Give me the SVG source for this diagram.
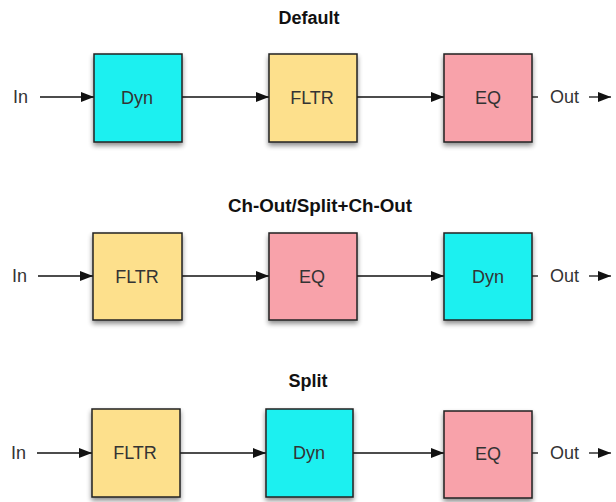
<svg xmlns="http://www.w3.org/2000/svg" width="616" height="502" viewBox="0 0 616 502">
<defs>
<filter id="sh" x="-20%" y="-20%" width="150%" height="150%">
<feGaussianBlur in="SourceAlpha" stdDeviation="2.5"/>
<feOffset dx="0" dy="3" result="b"/>
<feComponentTransfer><feFuncA type="linear" slope="0.45"/></feComponentTransfer>
<feMerge><feMergeNode/><feMergeNode in="SourceGraphic"/></feMerge>
</filter>
<marker id="ah" viewBox="0 0 13 10" refX="13" refY="5" markerWidth="13" markerHeight="10" markerUnits="userSpaceOnUse" orient="auto">
<path d="M0,0 L13,5 L0,10 Z" fill="#111"/>
</marker>
</defs>
<style>
.box{stroke:#222;stroke-width:1.5;filter:url(#sh)}
.dyn{fill:#1ff0f0}
.fltr{fill:#fde08c}
.eq{fill:#f8a2aa}
.lbl{font-family:"Liberation Sans",Arial,sans-serif;font-size:18px;fill:#333;text-anchor:middle;dominant-baseline:central}
.io{font-family:"Liberation Sans",Arial,sans-serif;font-size:18px;fill:#333;dominant-baseline:central}
.title{font-family:"Liberation Sans",Arial,sans-serif;font-size:18px;font-weight:bold;fill:#111;text-anchor:middle}
.c{stroke:#111;stroke-width:1.3;fill:none}
.ca{stroke:#111;stroke-width:1.3;fill:none;marker-end:url(#ah)}
</style>
<rect width="616" height="502" fill="#fff"/>
<text class="title" x="309" y="24">Default</text>
<text class="title" x="320" y="212" style="font-size:18.8px">Ch-Out/Split+Ch-Out</text>
<text class="title" x="308" y="387">Split</text>

<g id="connectors">
<line class="ca" x1="40" y1="97" x2="94" y2="97"/>
<line class="ca" x1="182" y1="97" x2="269" y2="97"/>
<line class="ca" x1="357" y1="97" x2="444" y2="97"/>
<line class="c" x1="532" y1="97" x2="538" y2="97"/>
<line class="ca" x1="589" y1="97" x2="611" y2="97"/>

<line class="ca" x1="38" y1="276" x2="93" y2="276"/>
<line class="ca" x1="182" y1="276" x2="269" y2="276"/>
<line class="ca" x1="357" y1="276" x2="444" y2="276"/>
<line class="c" x1="532" y1="276" x2="538" y2="276"/>
<line class="ca" x1="589" y1="276" x2="611" y2="276"/>

<line class="ca" x1="37" y1="453" x2="92" y2="453"/>
<line class="ca" x1="180" y1="453" x2="266" y2="453"/>
<line class="ca" x1="353" y1="453" x2="444" y2="453"/>
<line class="c" x1="532" y1="453" x2="538" y2="453"/>
<line class="ca" x1="589" y1="453" x2="611" y2="453"/>
</g>

<text class="io" x="13" y="97">In</text>
<text class="io" x="550" y="97">Out</text>
<text class="io" x="12" y="276">In</text>
<text class="io" x="550" y="276">Out</text>
<text class="io" x="11" y="453">In</text>
<text class="io" x="550" y="453">Out</text>

<g id="r1-dyn"><rect class="box dyn" x="94" y="54" width="88" height="88"/><text class="lbl" x="137" y="98">Dyn</text></g>
<g id="r1-fltr"><rect class="box fltr" x="269" y="54" width="88" height="88"/><text class="lbl" x="312" y="98">FLTR</text></g>
<g id="r1-eq"><rect class="box eq" x="444" y="54" width="88" height="88"/><text class="lbl" x="488" y="98">EQ</text></g>

<g id="r2-fltr"><rect class="box fltr" x="93" y="233" width="89" height="87"/><text class="lbl" x="137" y="277">FLTR</text></g>
<g id="r2-eq"><rect class="box eq" x="269" y="233" width="88" height="87"/><text class="lbl" x="312" y="277">EQ</text></g>
<g id="r2-dyn"><rect class="box dyn" x="444" y="233" width="88" height="87"/><text class="lbl" x="488" y="277">Dyn</text></g>

<g id="r3-fltr"><rect class="box fltr" x="92" y="409" width="88" height="88"/><text class="lbl" x="135" y="453">FLTR</text></g>
<g id="r3-dyn"><rect class="box dyn" x="266" y="409" width="87" height="88"/><text class="lbl" x="309" y="453">Dyn</text></g>
<g id="r3-eq"><rect class="box eq" x="444" y="411" width="88" height="87"/><text class="lbl" x="488" y="454">EQ</text></g>
</svg>
